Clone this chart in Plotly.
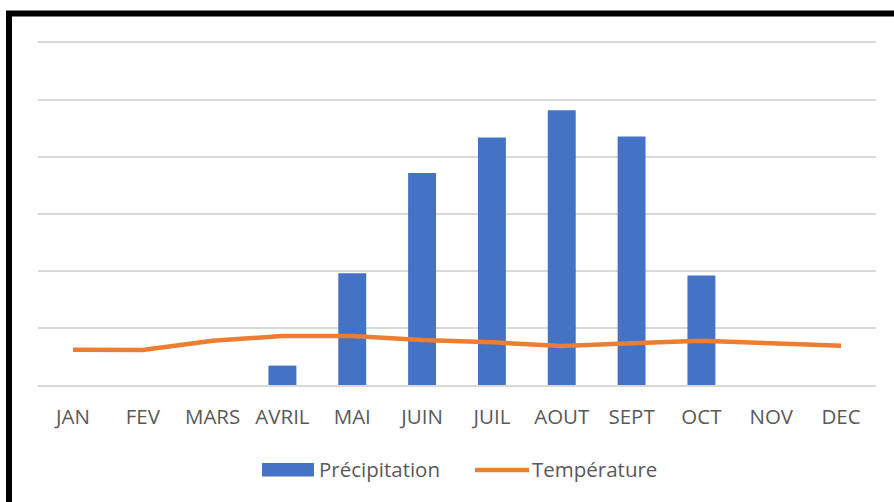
import plotly.graph_objects as go

# Monthly climate data
months = ["JAN", "FEV", "MARS", "AVRIL", "MAI", "JUIN", "JUIL", "AOUT", "SEPT", "OCT", "NOV", "DEC"]
precipitation = [0, 0, 0, 17, 98, 186, 217, 241, 218, 96, 0, 0]
temperature = [31, 30.7, 38.9, 43, 43, 39.5, 37.4, 34.2, 36.6, 38.9, 36.6, 34.5]

W, H = 894, 502
L, R, T, B = 38, 876, 43, 385  # plot area in pixels

BLUE = "#4472C4"
ORANGE = "#ED7D31"
TEXT = "#595959"
GRID = "#D9D9D9"
FONT = "Open Sans"
FS = 20.5


def px_x(p):
    return (p - L) / (R - L)


def px_y(p):
    return (B - p) / (B - T)


fig = go.Figure()
fig.add_trace(go.Bar(x=months, y=precipitation, name="Précipitation",
                     marker=dict(color=BLUE, line=dict(width=0)), showlegend=False))
fig.add_trace(go.Scatter(x=months, y=temperature, name="Température", mode="lines",
                         line=dict(color=ORANGE, width=4.5), showlegend=False))

shapes = [
    # outer frame
    dict(type="rect", xref="paper", yref="paper",
         x0=px_x(9), x1=px_x(905), y0=px_y(515), y1=px_y(13.5),
         line=dict(color="black", width=6), fillcolor="rgba(0,0,0,0)", layer="above"),
    # legend swatches
    dict(type="rect", xref="paper", yref="paper",
         x0=px_x(262), x1=px_x(314), y0=px_y(476.5), y1=px_y(463),
         line=dict(width=0), fillcolor=BLUE),
    dict(type="line", xref="paper", yref="paper",
         x0=px_x(475), x1=px_x(529), y0=px_y(470), y1=px_y(470),
         line=dict(color=ORANGE, width=4.5)),
]

annotations = [
    dict(text="Précipitation", xref="paper", yref="paper", x=px_x(317), y=px_y(469),
         xanchor="left", yanchor="middle", showarrow=False,
         font=dict(family=FONT, size=FS, color=TEXT)),
    dict(text="Température", xref="paper", yref="paper", x=px_x(529.5), y=px_y(469),
         xanchor="left", yanchor="middle", showarrow=False,
         font=dict(family=FONT, size=FS, color=TEXT)),
]

fig.update_layout(
    width=W, height=H,
    margin=dict(l=L, r=W - R, t=T, b=H - B),
    paper_bgcolor="white", plot_bgcolor="white",
    bargap=0.6,
    shapes=shapes, annotations=annotations,
    font=dict(family=FONT, color=TEXT),
)
# x-axis line mirrored gives the baseline and the top gridline
fig.update_xaxes(showline=True, mirror=True, linecolor=GRID, linewidth=1.5,
                 showgrid=False, ticks="", layer="below traces",
                 tickfont=dict(family=FONT, size=FS, color=TEXT), ticklabelstandoff=13)
fig.update_yaxes(range=[0, 300], dtick=50,
                 showticklabels=False, showline=False,
                 gridcolor=GRID, gridwidth=1.5, zeroline=False, ticks="")

fig.write_html("out.html")
